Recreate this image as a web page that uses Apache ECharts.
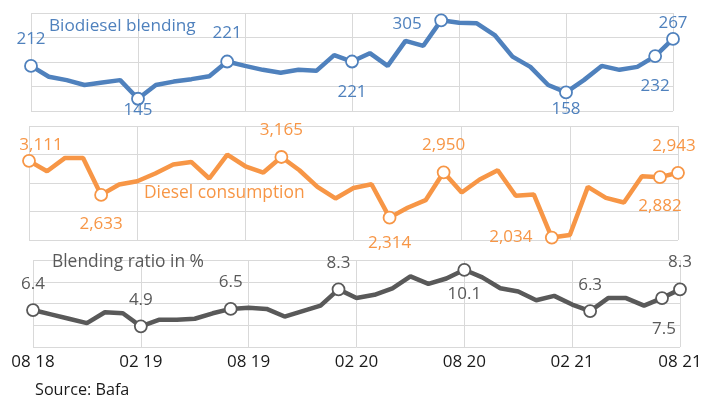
<!DOCTYPE html>
<html>
<head>
<meta charset="utf-8">
<script src="https://cdn.jsdelivr.net/npm/echarts@6/dist/echarts.min.js"></script>
<style>
  html, body { margin: 0; padding: 0; background: #fff; }
  #chart { width: 708px; height: 403px; }
</style>
</head>
<body>
<div id="chart"></div>
<script>
// monthly values, Aug 2018 .. Aug 2021
const months = ['08 18','09 18','10 18','11 18','12 18','01 19','02 19','03 19','04 19','05 19','06 19','07 19',
  '08 19','09 19','10 19','11 19','12 19','01 20','02 20','03 20','04 20','05 20','06 20','07 20',
  '08 20','09 20','10 20','11 20','12 20','01 21','02 21','03 21','04 21','05 21','06 21','07 21','08 21'];

const biodiesel = [212,190,183,173,178,183,145,173,180,185,191,221,212,204,198,204,202,234,221,238,212,263,253,305,
  300,299,275,231,210,173,158,183,212,204,210,232,267];

const diesel = [3111,2965,3152,3152,2633,2779,2825,2933,3059,3096,2863,3199,3035,2947,3165,2979,2746,2583,2730,2783,
  2314,2452,2559,2950,2667,2849,2979,2620,2639,2034,2069,2746,2592,2527,2895,2882,2943];

const ratio = [6.4,6.0,5.6,5.2,6.2,6.1,4.9,5.5,5.5,5.6,6.1,6.5,6.6,6.5,5.8,6.3,6.8,8.3,7.5,7.8,8.4,9.5,8.8,9.3,
  10.1,9.4,8.4,8.1,7.3,7.7,6.9,6.3,7.5,7.5,6.8,7.5,8.3];

// which points get a marker + value label, and where the label sits (offset from point)
const bioMarks = { 0: [0, -27], 6: [0, 11], 11: [0, -28], 18: [0, 31], 23: [-34, 4], 30: [0, 17], 35: [0, 30], 36: [0, -16] };
const dieselMarks = { 0: [12, -16], 4: [0, 29], 14: [0, -27], 20: [0, 26], 23: [0, -27], 29: [-41, 0], 35: [0, 29], 36: [-4, -27] };
const ratioMarks = { 0: [0, -26], 6: [0, -26], 11: [0, -27], 17: [0, -26], 24: [0, 24], 31: [0, -26], 35: [2, 31], 36: [0, -27] };

const BLUE = '#4f81bd';
const ORANGE = '#f79646';
const GRAY = '#595959';
const GRID_LINE = '#d9d9d9';
const FONT = '"Open Sans", "DejaVu Sans", sans-serif';

const buildData = (values, marks, color, fmt) => values.map((v, i) => {
  if (!(i in marks)) return { value: v, symbol: 'none' };
  return {
    value: v,
    symbol: 'circle',
    symbolSize: 12,
    itemStyle: { color: '#fff', borderColor: color, borderWidth: 1.8 },
    label: {
      show: true,
      position: 'inside',
      offset: marks[i],
      color: color,
      fontSize: 17,
      fontFamily: FONT,
      textBorderWidth: 0,
      formatter: () => fmt(v),
    },
  };
});

const makeX = (gridIndex, showLabels) => ({
  type: 'category',
  gridIndex: gridIndex,
  data: months,
  boundaryGap: false,
  axisLine: { show: false },
  axisTick: { show: false },
  splitLine: {
    show: true,
    interval: (idx) => idx % 6 === 0,
    lineStyle: { color: GRID_LINE, width: 1 },
  },
  axisLabel: {
    show: showLabels,
    interval: (idx) => idx % 6 === 0,
    color: '#1a1a1a',
    fontSize: 17,
    fontFamily: FONT,
    margin: 7,
  },
});

const makeY = (gridIndex, min, max, interval) => ({
  type: 'value',
  gridIndex: gridIndex,
  min: min,
  max: max,
  interval: interval,
  axisLine: { show: false },
  axisTick: { show: false },
  axisLabel: { show: false },
  splitLine: { show: true, lineStyle: { color: GRID_LINE, width: 1 } },
});

const makeSeries = (idx, values, marks, color, fmt) => ({
  type: 'line',
  xAxisIndex: idx,
  yAxisIndex: idx,
  data: buildData(values, marks, color, fmt),
  symbol: 'circle',
  showAllSymbol: true,
  clip: false,
  lineStyle: { color: color, width: 4.5 },
  itemStyle: { color: color },
  emphasis: { disabled: true },
  animation: false,
  z: 3,
});

const chart = echarts.init(document.getElementById('chart'));

chart.setOption({
  animation: false,
  grid: [
    { left: 31, right: 35, top: 13, height: 98 },
    { left: 29, right: 30, top: 126, height: 114 },
    { left: 33, right: 28, top: 260, height: 87 },
  ],
  xAxis: [makeX(0, false), makeX(1, false), makeX(2, true)],
  yAxis: [makeY(0, 120, 320, 50), makeY(1, 2000, 3600, 400), makeY(2, 3, 11, 2)],
  series: [
    makeSeries(0, biodiesel, bioMarks, BLUE, (v) => String(v)),
    makeSeries(1, diesel, dieselMarks, ORANGE, (v) => v.toLocaleString('en-US')),
    makeSeries(2, ratio, ratioMarks, GRAY, (v) => v.toFixed(1)),
  ],
  graphic: [
    { type: 'text', left: 49, top: 18, z: 10,
      style: { text: 'Biodiesel blending', fill: BLUE, font: '17.2px ' + FONT } },
    { type: 'text', left: 144, top: 185, z: 10,
      style: { text: 'Diesel consumption', fill: ORANGE, font: '17.4px ' + FONT } },
    { type: 'text', left: 52, top: 254, z: 10,
      style: { text: 'Blending ratio in %', fill: GRAY, font: '17.4px ' + FONT } },
    { type: 'text', left: 35, top: 382, z: 10,
      style: { text: 'Source: Bafa', fill: '#1a1a1a', font: '16.2px ' + FONT } },
  ],
});
</script>
</body>
</html>
